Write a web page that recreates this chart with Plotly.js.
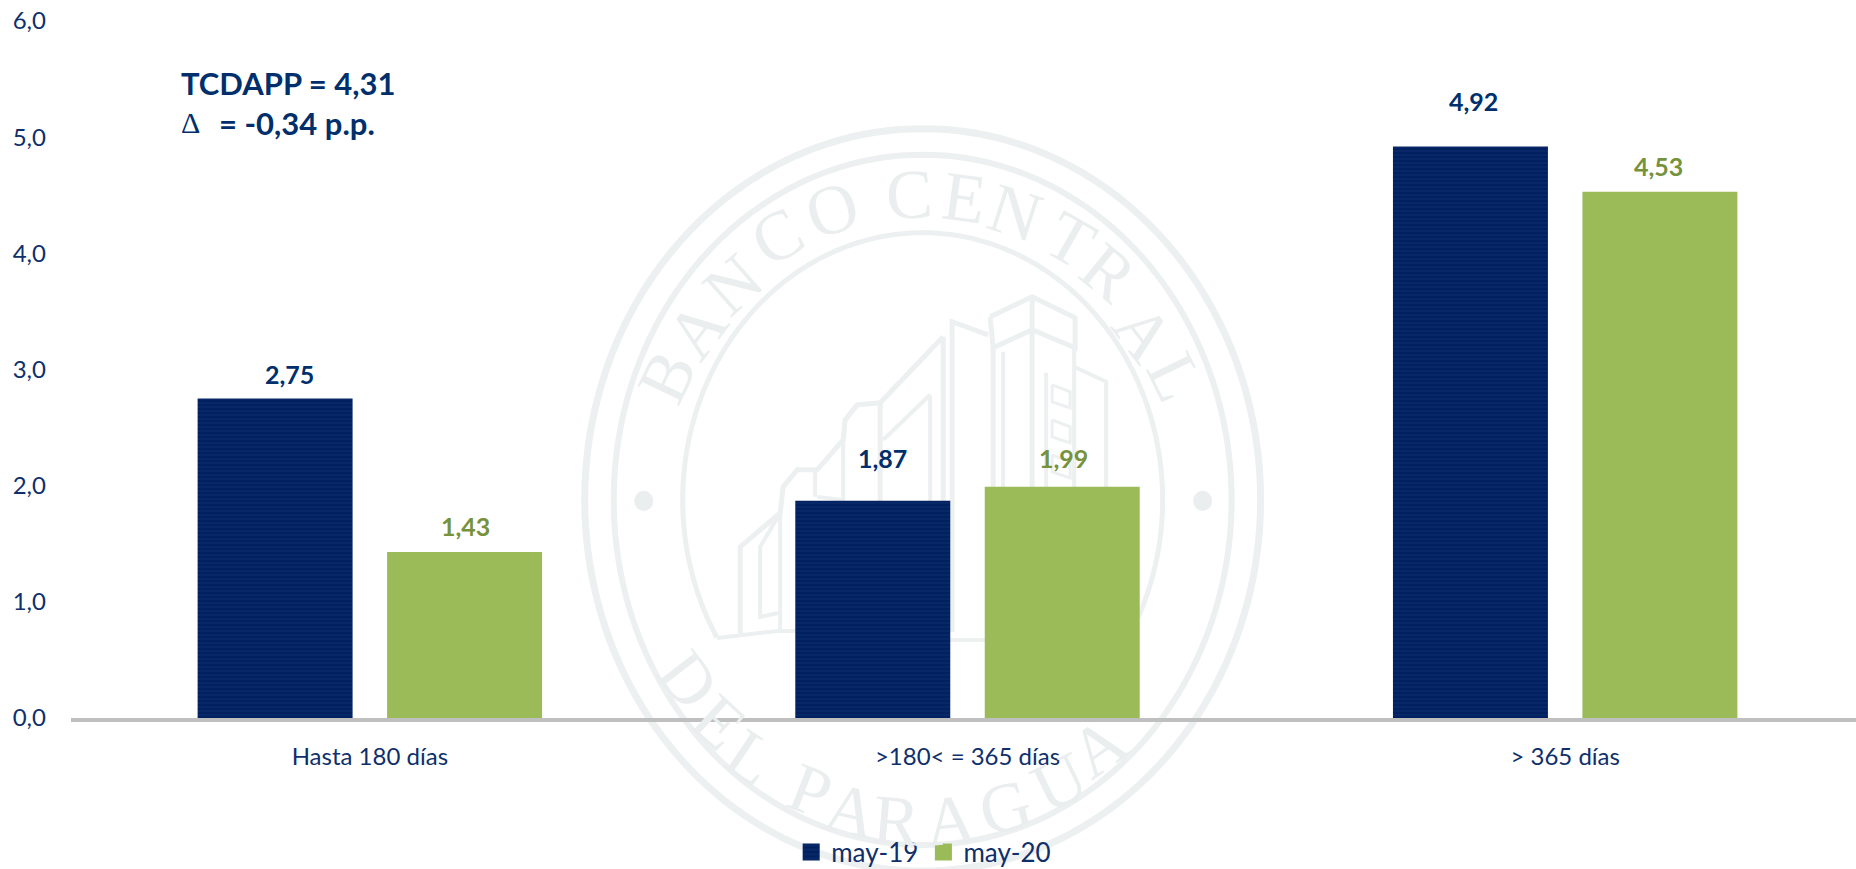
<!DOCTYPE html>
<html>
<head>
<meta charset="utf-8">
<script src="https://cdn.plot.ly/plotly-3.0.1.min.js"></script>
<style>html,body{margin:0;padding:0;background:#fff;overflow:hidden}</style>
</head>
<body>
<div id="chart" style="width:1856px;height:869px"></div>
<script>
var categories = ['Hasta 180 días', '>180< = 365 días', '> 365 días'];
var seriesNames = ['may-19', 'may-20'];
var may19 = [2.75, 1.87, 4.92];
var may20 = [1.43, 1.99, 4.53];
var tickValues = [0, 1, 2, 3, 4, 5, 6];
var noteLines = ['TCDAPP = 4,31', '= -0,34 p.p.'];

var NAVY = '#002060', GREEN = '#9BBB59', TEXT = '#0F2F6B', NAVYTXT = '#002F6C', GREENTXT = '#76923C';
var FONT = 'Lato, "Open Sans", sans-serif';
var W = 1856, H = 869, L = 70.7, T = 21.4, B = 718;
function px(X) { return (X - L) / (W - L); }
function py(Y) { return (B - Y) / (B - T); }

/* ---- watermark seal, all in page pixels ---- */
var SEAL = '#EDF0F0', CX = 922.5, CY = 500;
function lineShape(pts, w) {
  var d = pts.map(function (p, i) { return (i ? 'L' : 'M') + px(p[0]) + ',' + py(p[1]); }).join(' ');
  return { type: 'path', xref: 'paper', yref: 'paper', path: d, layer: 'below',
           line: { color: SEAL, width: w || 4 } };
}
function ring(rx, ry, a0, a1, w) {
  var pts = [], n = 180;
  for (var i = 0; i <= n; i++) {
    var a = (a0 + (a1 - a0) * i / n) * Math.PI / 180;
    pts.push([CX + rx * Math.sin(a), CY - ry * Math.cos(a)]);
  }
  return lineShape(pts, w);
}
var shapes = [
  ring(338, 371, 0, 360, 7),
  ring(309, 345, 0, 360, 6),
  ring(240, 267, -121, 121, 5),
  lineShape([[717, 638], [778, 631], [850, 631], [950, 640], [1060, 640], [1128, 636]], 4),
  lineShape([[990, 317], [1032, 297], [1075, 318], [1075, 348], [1032, 330], [993, 348], [990, 317]], 5),
  lineShape([[1032, 297], [1032, 632]], 5),
  lineShape([[993, 348], [993, 632]], 5),
  lineShape([[1003, 352], [1003, 632]]),
  lineShape([[988, 335], [952, 322], [952, 632]], 5),
  lineShape([[943, 337], [943, 632]], 5),
  lineShape([[943, 337], [880, 403], [857, 405], [845, 420], [843, 440], [817, 470], [797, 470], [783, 487], [780, 513], [740, 547], [740, 633]], 5),
  lineShape([[930, 395], [883, 440]]),
  lineShape([[930, 395], [930, 633]]),
  lineShape([[880, 403], [880, 633]], 5),
  lineShape([[843, 440], [843, 500], [817, 497]]),
  lineShape([[815, 470], [815, 497]]),
  lineShape([[780, 513], [780, 633]]),
  lineShape([[780, 513], [760, 547], [760, 617], [778, 613]]),
  lineShape([[1074, 367], [1106, 382], [1106, 633]]),
  lineShape([[1074, 348], [1074, 633]]),
  lineShape([[1046, 373], [1046, 632]]),
  lineShape([[1052, 385], [1070, 392], [1070, 408], [1052, 402], [1052, 385]], 3),
  lineShape([[1052, 420], [1070, 427], [1070, 443], [1052, 437], [1052, 420]], 3),
  lineShape([[1052, 455], [1070, 462], [1070, 478], [1052, 472], [1052, 455]], 3),
  { type: 'circle', xref: 'paper', yref: 'paper', layer: 'below', fillcolor: '#EBEEEE', line: { width: 0 },
    x0: px(634), x1: px(653), y0: py(511), y1: py(491) },
  { type: 'circle', xref: 'paper', yref: 'paper', layer: 'below', fillcolor: '#EBEEEE', line: { width: 0 },
    x0: px(1193), x1: px(1212), y0: py(511), y1: py(491) }
];

var sealTop = [['B',667,377],['A',697,330],['N',733,285],['C',777,237],['O',832,210],['C',909,195],['E',964,198],['N',1015,213],['T',1070,240],['R',1108,273],['A',1143,333],['L',1175,377]];
var sealBottom = [['D',688,680],['E',719,722],['L',751,757],['P',810,790],['A',851,810],['R',896,820],['A',950,820],['G',1005,807],['U',1059,782],['A',1098,747]];
var annotations = [];
function sealLetter(l, top) {
  var dx = l[1] - CX, dy = l[2] - CY;
  var rot = top ? Math.atan2(dx, -dy) : Math.atan2(-dx, dy);
  annotations.push({ text: l[0], xref: 'paper', yref: 'paper', x: px(l[1]), y: py(l[2]),
    xanchor: 'center', yanchor: 'middle', showarrow: false, textangle: rot * 180 / Math.PI,
    font: { family: '"Liberation Serif", serif', size: 70, color: '#EAEEEE' } });
}
sealTop.forEach(function (l) { sealLetter(l, true); });
sealBottom.forEach(function (l) { sealLetter(l, false); });

/* ---- value labels ---- */
var SLOT = 94.7;
var labelNudgeX = [[14, 10, 3], [1, 1, -1]];
var labelLift = [[25, 43, 45], [26, 29, 26]];
[may19, may20].forEach(function (vals, s) {
  vals.forEach(function (v, c) {
    annotations.push({ xref: 'x', yref: 'y', x: categories[c], y: v, showarrow: false,
      text: '<b>' + v.toFixed(2).replace('.', ',') + '</b>',
      xanchor: 'center', yanchor: 'middle',
      xshift: (s ? SLOT : -SLOT) + labelNudgeX[s][c], yshift: labelLift[s][c],
      font: { family: FONT, size: 25, color: s ? GREENTXT : NAVYTXT } });
  });
});

/* ---- note ---- */
annotations.push({ xref: 'paper', yref: 'paper', x: px(179), y: py(83), xanchor: 'left', yanchor: 'middle', showarrow: false,
  text: '<b>' + noteLines[0] + '</b>', font: { family: FONT, size: 31, color: NAVYTXT } });
annotations.push({ xref: 'paper', yref: 'paper', x: px(179), y: py(123), xanchor: 'left', yanchor: 'middle', showarrow: false,
  text: 'Δ', font: { family: '"Liberation Serif", serif', size: 30, color: NAVYTXT } });
annotations.push({ xref: 'paper', yref: 'paper', x: px(217), y: py(123), xanchor: 'left', yanchor: 'middle', showarrow: false,
  text: '<b>' + noteLines[1] + '</b>', font: { family: FONT, size: 31, color: NAVYTXT } });

var traces = [
  { type: 'bar', name: seriesNames[0], x: categories, y: may19, hoverinfo: 'x+y',
    marker: { color: NAVY, line: { width: 0 },
      pattern: { shape: '-', size: 4, solidity: 0.35, fgcolor: '#0A2A6A', bgcolor: NAVY } } },
  { type: 'bar', name: seriesNames[1], x: categories, y: may20, hoverinfo: 'x+y',
    marker: { color: GREEN, line: { width: 0 } } }
];

var layout = {
  width: W, height: H,
  margin: { l: L, r: 0, t: T, b: H - B, pad: 0, autoexpand: false },
  paper_bgcolor: '#fff', plot_bgcolor: 'rgba(0,0,0,0)',
  separators: ',.',
  barmode: 'group', bargap: 0.366, bargroupgap: 0.182,
  xaxis: { type: 'category', range: [-0.5, 2.4866], showgrid: false, zeroline: false,
    showline: true, linecolor: '#BFBFBF', linewidth: 4, ticks: '', ticklabelstandoff: 14,
    tickfont: { family: FONT, size: 24, color: TEXT }, fixedrange: true },
  yaxis: { range: [0, 6], tickmode: 'array', tickvals: tickValues,
    ticktext: tickValues.map(function (v) { return v.toFixed(1).replace('.', ','); }),
    showgrid: false, zeroline: false, showline: false, ticks: '', ticklabelstandoff: 24,
    tickfont: { family: FONT, size: 24, color: TEXT }, fixedrange: true },
  showlegend: true,
  legend: { orientation: 'h', x: px(791), xanchor: 'left', y: py(852), yanchor: 'middle',
    font: { family: FONT, size: 26, color: TEXT }, bgcolor: 'rgba(0,0,0,0)', itemclick: false, itemdoubleclick: false },
  shapes: shapes,
  annotations: annotations
};

Plotly.newPlot('chart', traces, layout, { displayModeBar: false, responsive: false }).then(function () {
  document.querySelectorAll('.legendpoints path').forEach(function (p) {
    p.setAttribute('transform', (p.getAttribute('transform') || '') + ' scale(1.42)');
  });
});
</script>
</body>
</html>
